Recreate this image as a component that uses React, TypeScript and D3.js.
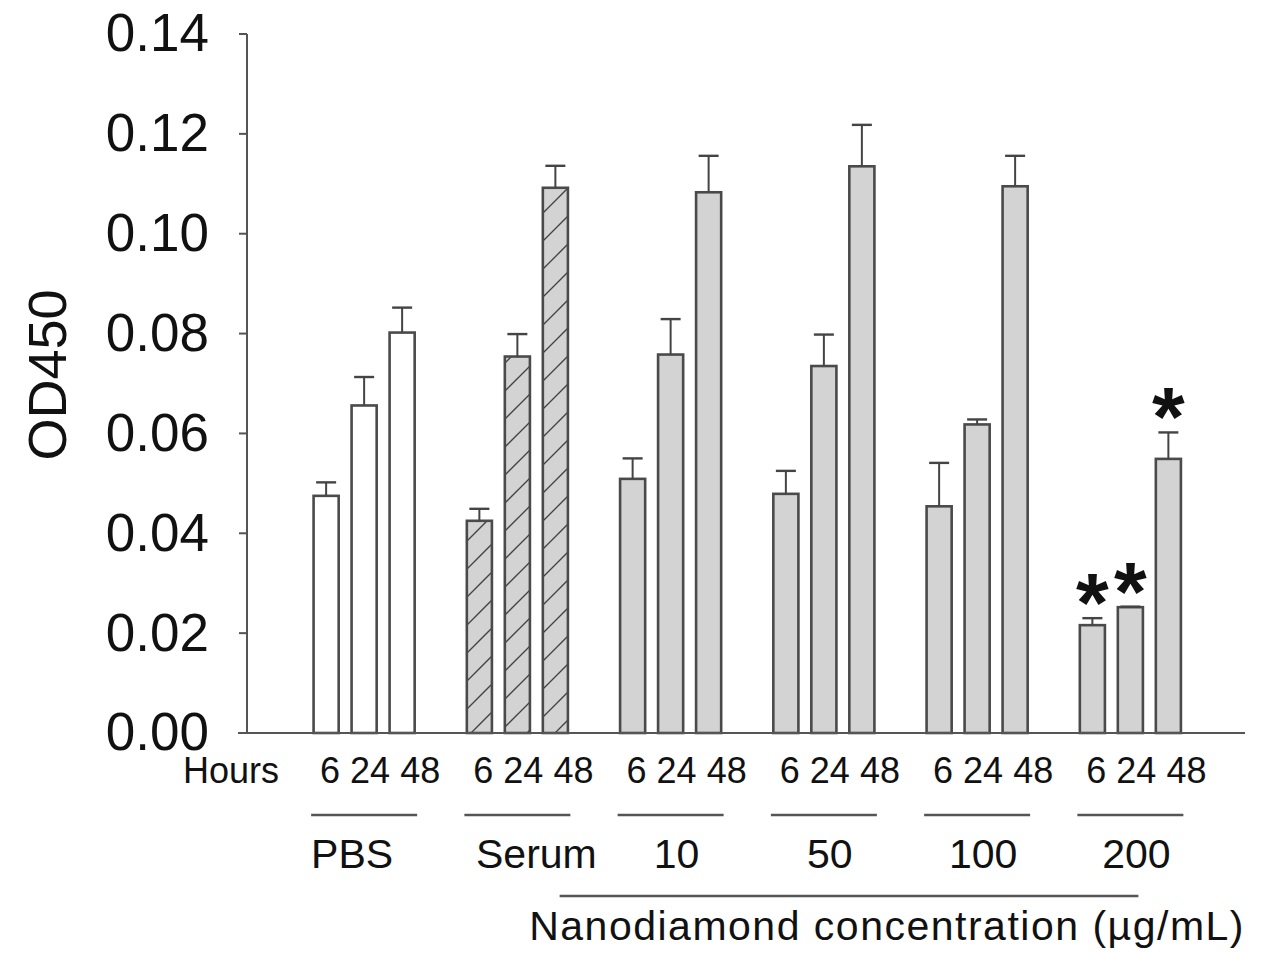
import React, { useEffect, useRef } from "react";
import * as d3 from "d3";

// groups along the x axis and time points inside each group
const groups = ["PBS", "Serum", "10", "50", "100", "200"];
const hours = ["6", "24", "48"];

// OD450 means per group (6h, 24h, 48h)
const pbsMeans = [0.0475, 0.0656, 0.0802];
const serumMeans = [0.0425, 0.0754, 0.1092];
const nd10Means = [0.0509, 0.0758, 0.1083];
const nd50Means = [0.0479, 0.0735, 0.1135];
const nd100Means = [0.0454, 0.0618, 0.1095];
const nd200Means = [0.0216, 0.0252, 0.0549];

// upper error (SD)
const pbsErr = [0.0027, 0.0057, 0.005];
const serumErr = [0.0024, 0.0045, 0.0044];
const nd10Err = [0.0041, 0.0071, 0.0073];
const nd50Err = [0.0046, 0.0063, 0.0083];
const nd100Err = [0.0087, 0.001, 0.0061];
const nd200Err = [0.0014, 0.0001, 0.0053];

const significant = ["200"];
const yTicks = [0, 0.02, 0.04, 0.06, 0.08, 0.1, 0.12, 0.14];

const means = [pbsMeans, serumMeans, nd10Means, nd50Means, nd100Means, nd200Means];
const errs = [pbsErr, serumErr, nd10Err, nd50Err, nd100Err, nd200Err];

const FONT = "'Liberation Sans', Arial, Helvetica, sans-serif";

export default function App() {
  const ref = useRef<SVGSVGElement>(null);

  useEffect(() => {
    const svg = d3.select(ref.current);
    svg.selectAll("*").remove();

    const axisX = 247;
    const y = d3.scaleLinear().domain([0, 0.14]).range([733, 34]);
    const x0 = d3.scaleBand().domain(groups).range([287.5, 1207]);
    const x1 = d3
      .scaleBand()
      .domain(hours)
      .range([0, 114])
      .paddingInner(0.34)
      .paddingOuter(0.17);
    const innerOff = (x0.bandwidth() - 114) / 2;
    const center = (g: string) => (x0(g) as number) + x0.bandwidth() / 2;

    // hatch pattern for serum
    const defs = svg.append("defs");
    const pat = defs
      .append("pattern")
      .attr("id", "hatch")
      .attr("patternUnits", "userSpaceOnUse")
      .attr("width", 28)
      .attr("height", 28);
    pat.append("rect").attr("width", 28).attr("height", 28).attr("fill", "#d3d3d3");
    pat
      .append("path")
      .attr("d", "M0,28 L28,0 M-7,7 L7,-7 M21,35 L35,21")
      .attr("stroke", "#444")
      .attr("stroke-width", 1.4);

    const data = groups.flatMap((g, gi) =>
      hours.map((h, hi) => ({ g, h, v: means[gi][hi], e: errs[gi][hi] }))
    );

    const g = svg.append("g");

    // bars
    g.selectAll("rect.bar")
      .data(data)
      .enter()
      .append("rect")
      .attr("class", "bar")
      .attr("x", (d) => (x0(d.g) as number) + innerOff + (x1(d.h) as number))
      .attr("y", (d) => y(d.v))
      .attr("width", x1.bandwidth())
      .attr("height", (d) => y(0) - y(d.v))
      .attr("fill", (d) => (d.g === "PBS" ? "#fff" : d.g === "Serum" ? "url(#hatch)" : "#d3d3d3"))
      .attr("stroke", "#4a4a4a")
      .attr("stroke-width", 2.6);

    // error bars
    const bx = (d: any) => (x0(d.g) as number) + innerOff + (x1(d.h) as number) + x1.bandwidth() / 2;
    g.selectAll("line.err")
      .data(data)
      .enter()
      .append("line")
      .attr("x1", bx)
      .attr("x2", bx)
      .attr("y1", (d) => y(d.v))
      .attr("y2", (d) => y(d.v + d.e))
      .attr("stroke", "#444")
      .attr("stroke-width", 2);
    g.selectAll("line.cap")
      .data(data)
      .enter()
      .append("line")
      .attr("x1", (d) => bx(d) - 10)
      .attr("x2", (d) => bx(d) + 10)
      .attr("y1", (d) => y(d.v + d.e))
      .attr("y2", (d) => y(d.v + d.e))
      .attr("stroke", "#444")
      .attr("stroke-width", 2.4);

    // asterisks
    g.selectAll("text.star")
      .data(data.filter((d) => significant.includes(d.g)))
      .enter()
      .append("text")
      .attr("x", bx)
      .attr("y", (d) => y(d.v + d.e) + 14)
      .attr("text-anchor", "middle")
      .attr("font-family", FONT)
      .attr("font-size", 84)
      .attr("font-weight", "bold")
      .attr("fill", "#111")
      .text("*");

    // y axis
    g.append("line")
      .attr("x1", axisX)
      .attr("x2", axisX)
      .attr("y1", y(0.14))
      .attr("y2", y(0))
      .attr("stroke", "#555")
      .attr("stroke-width", 2);
    g.selectAll("line.tick")
      .data(yTicks)
      .enter()
      .append("line")
      .attr("x1", axisX - 8)
      .attr("x2", axisX)
      .attr("y1", (d) => y(d))
      .attr("y2", (d) => y(d))
      .attr("stroke", "#555")
      .attr("stroke-width", 2);
    g.selectAll("text.tick")
      .data(yTicks)
      .enter()
      .append("text")
      .attr("x", 209)
      .attr("y", (d) => y(d))
      .attr("dy", "0.33em")
      .attr("text-anchor", "end")
      .attr("font-family", FONT)
      .attr("font-size", 53)
      .attr("fill", "#111")
      .text((d) => d3.format(".2f")(d));

    // baseline
    g.append("line")
      .attr("x1", 238)
      .attr("x2", 1245)
      .attr("y1", y(0))
      .attr("y2", y(0))
      .attr("stroke", "#555")
      .attr("stroke-width", 2);

    // y title
    g.append("text")
      .attr("transform", "translate(66,375) rotate(-90)")
      .attr("text-anchor", "middle")
      .attr("font-family", FONT)
      .attr("font-size", 54)
      .attr("fill", "#111")
      .text("OD450");

    // x labels
    g.append("text")
      .attr("x", 183)
      .attr("y", 783)
      .attr("font-family", FONT)
      .attr("font-size", 36)
      .attr("fill", "#111")
      .text("Hours");

    g.selectAll("text.hours")
      .data(groups)
      .enter()
      .append("text")
      .attr("x", (d) => center(d) + 16)
      .attr("y", 783)
      .attr("text-anchor", "middle")
      .attr("font-family", FONT)
      .attr("font-size", 36)
      .attr("fill", "#111")
      .text(hours.join(" "));

    g.selectAll("line.under")
      .data(groups)
      .enter()
      .append("line")
      .attr("x1", (d) => center(d) - 53)
      .attr("x2", (d) => center(d) + 53)
      .attr("y1", 815)
      .attr("y2", 815)
      .attr("stroke", "#555")
      .attr("stroke-width", 2.4);

    g.selectAll("text.group")
      .data(groups)
      .enter()
      .append("text")
      .attr("x", (d) => center(d) + (d === "Serum" ? 19 : d === "PBS" ? -12 : 6))
      .attr("y", 868)
      .attr("text-anchor", "middle")
      .attr("font-family", FONT)
      .attr("font-size", 41)
      .attr("fill", "#111")
      .text((d) => d);

    g.append("line")
      .attr("x1", center("10") - 111)
      .attr("x2", center("200") + 8)
      .attr("y1", 896)
      .attr("y2", 896)
      .attr("stroke", "#555")
      .attr("stroke-width", 2.4);

    g.append("text")
      .attr("x", 1245)
      .attr("y", 940)
      .attr("text-anchor", "end")
      .attr("font-family", FONT)
      .attr("font-size", 41)
      .attr("letter-spacing", 1.5)
      .attr("fill", "#111")
      .text("Nanodiamond concentration (\u00b5g/mL)");
  }, []);

  return (
    <svg
      ref={ref}
      width={1262}
      height={953}
      style={{ position: "absolute", left: 0, top: 0, background: "#fff" }}
    />
  );
}
